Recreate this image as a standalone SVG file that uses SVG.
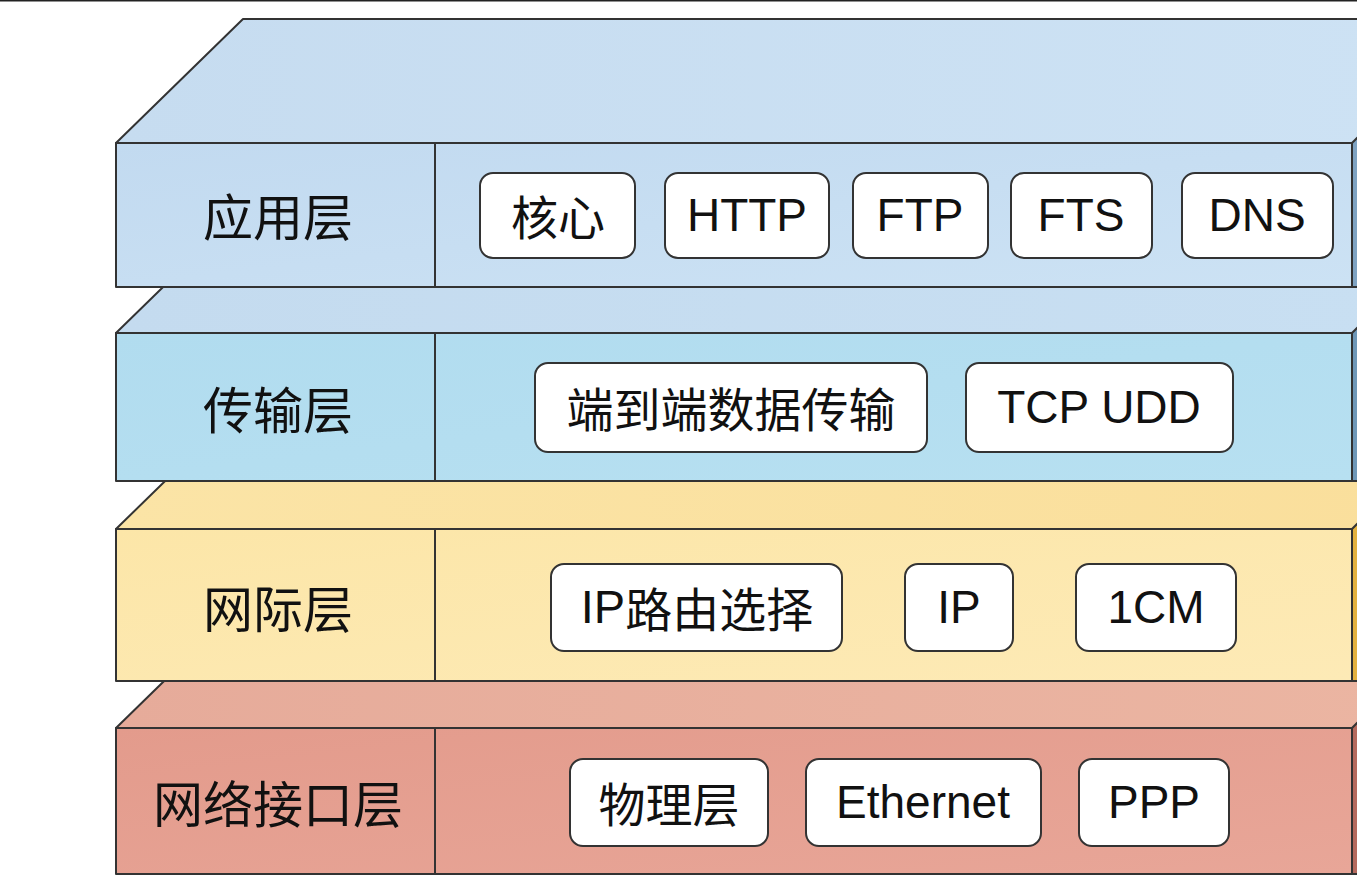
<svg xmlns="http://www.w3.org/2000/svg" width="1357" height="880" viewBox="0 0 1357 880">
<defs>
<linearGradient id="g1f" x1="0" y1="0" x2="1" y2="1"><stop offset="0" stop-color="#c2daf0"/><stop offset="1" stop-color="#cce2f4"/></linearGradient>
<linearGradient id="g1t" x1="0" y1="0" x2="1" y2="0"><stop offset="0" stop-color="#c6dcf0"/><stop offset="1" stop-color="#cde2f4"/></linearGradient>
<linearGradient id="g2f" x1="0" y1="0" x2="1" y2="1"><stop offset="0" stop-color="#b1dcef"/><stop offset="1" stop-color="#b7e0f1"/></linearGradient>
<linearGradient id="g2t" x1="0" y1="0" x2="1" y2="0"><stop offset="0" stop-color="#c4dbef"/><stop offset="1" stop-color="#c8dff2"/></linearGradient>
<linearGradient id="g3f" x1="0" y1="0" x2="1" y2="1"><stop offset="0" stop-color="#fce6a8"/><stop offset="1" stop-color="#fdeab6"/></linearGradient>
<linearGradient id="g3t" x1="0" y1="0" x2="1" y2="0"><stop offset="0" stop-color="#fbe4a6"/><stop offset="1" stop-color="#fadf9c"/></linearGradient>
<linearGradient id="g4f" x1="0" y1="0" x2="1" y2="1"><stop offset="0" stop-color="#e39b8c"/><stop offset="1" stop-color="#e8a698"/></linearGradient>
<linearGradient id="g4t" x1="0" y1="0" x2="1" y2="0"><stop offset="0" stop-color="#e6ab9a"/><stop offset="1" stop-color="#ebb5a2"/></linearGradient>
</defs>
<style>
.edge{stroke:#333;stroke-width:2;stroke-linejoin:round}
.pill{fill:#fff;stroke:#333;stroke-width:2}
.lbl{font-family:"Noto Sans CJK SC","Liberation Sans",sans-serif;font-size:50px;fill:#111;text-anchor:middle;dominant-baseline:central}
.pt{font-family:"Liberation Sans","Noto Sans CJK SC",sans-serif;font-size:46px;fill:#111;text-anchor:middle;dominant-baseline:central}
.ptc{font-family:"Noto Sans CJK SC","Liberation Sans",sans-serif;font-size:47px;fill:#111;text-anchor:middle;dominant-baseline:central}
</style>
<rect width="1357" height="880" fill="#fff"/>
<line x1="0" y1="0.5" x2="1357" y2="0.5" stroke="#222" stroke-width="2"/>

<g id="layer4">
<polygon class="edge" points="116,728 243,604 1400,604 1400,728" fill="url(#g4t)"/>
<rect class="edge" x="116" y="728" width="1236" height="146" fill="url(#g4f)"/>
<polygon class="edge" points="1352,728 1360,720 1360,874 1352,874" fill="#b56a5e"/>
<line class="edge" x1="435" y1="728" x2="435" y2="874"/>
<text class="lbl" x="278" y="801">网络接口层</text>
<g id="n-phys"><rect class="pill" x="570" y="759" width="198" height="87" rx="13"/><text class="ptc" x="669" y="801">物理层</text></g>
<g id="n-eth"><rect class="pill" x="806" y="759" width="235" height="87" rx="13"/><text class="pt" x="923" y="802">Ethernet</text></g>
<g id="n-ppp"><rect class="pill" x="1079" y="759" width="150" height="87" rx="13"/><text class="pt" x="1154" y="802">PPP</text></g>
</g>

<g id="layer3">
<polygon class="edge" points="116,529 243,405 1400,405 1400,529" fill="url(#g3t)"/>
<rect class="edge" x="116" y="529" width="1236" height="152" fill="url(#g3f)"/>
<polygon class="edge" points="1352,529 1360,521 1360,681 1352,681" fill="#e3b13f"/>
<line class="edge" x1="435" y1="529" x2="435" y2="681"/>
<text class="lbl" x="278" y="606">网际层</text>
<g id="n-iproute"><rect class="pill" x="551" y="564" width="291" height="87" rx="13"/><text class="ptc" x="697" y="606"><tspan font-family="Liberation Sans">IP</tspan>路由选择</text></g>
<g id="n-ip"><rect class="pill" x="905" y="564" width="108" height="87" rx="13"/><text class="pt" x="959" y="607">IP</text></g>
<g id="n-1cm"><rect class="pill" x="1076" y="564" width="160" height="87" rx="13"/><text class="pt" x="1156" y="607">1CM</text></g>
</g>

<g id="layer2">
<polygon class="edge" points="116,333 243,209 1400,209 1400,333" fill="url(#g2t)"/>
<rect class="edge" x="116" y="333" width="1236" height="148" fill="url(#g2f)"/>
<polygon class="edge" points="1352,333 1360,325 1360,481 1352,481" fill="#6f98b8"/>
<line class="edge" x1="435" y1="333" x2="435" y2="481"/>
<text class="lbl" x="278" y="407">传输层</text>
<g id="n-e2e"><rect class="pill" x="535" y="363" width="392" height="89" rx="13"/><text class="ptc" x="731" y="406">端到端数据传输</text></g>
<g id="n-tcp"><rect class="pill" x="966" y="363" width="267" height="89" rx="13"/><text class="pt" x="1099" y="407">TCP UDD</text></g>
</g>

<g id="layer1">
<polygon class="edge" points="116,143 243,19 1400,19 1400,143" fill="url(#g1t)"/>
<rect class="edge" x="116" y="143" width="1236" height="144" fill="url(#g1f)"/>
<polygon class="edge" points="1352,143 1360,135 1360,287 1352,287" fill="#7fa3c2"/>
<line class="edge" x1="435" y1="143" x2="435" y2="287"/>
<text class="lbl" x="278" y="214">应用层</text>
<g id="n-core"><rect class="pill" x="480" y="173" width="155" height="85" rx="13"/><text class="ptc" x="558" y="214">核心</text></g>
<g id="n-http"><rect class="pill" x="665" y="173" width="164" height="85" rx="13"/><text class="pt" x="747" y="215">HTTP</text></g>
<g id="n-ftp"><rect class="pill" x="853" y="173" width="135" height="85" rx="13"/><text class="pt" x="920" y="215">FTP</text></g>
<g id="n-fts"><rect class="pill" x="1011" y="173" width="141" height="85" rx="13"/><text class="pt" x="1081" y="215">FTS</text></g>
<g id="n-dns"><rect class="pill" x="1182" y="173" width="151" height="85" rx="13"/><text class="pt" x="1257" y="215">DNS</text></g>
</g>
<g id="connectors"/>
</svg>
